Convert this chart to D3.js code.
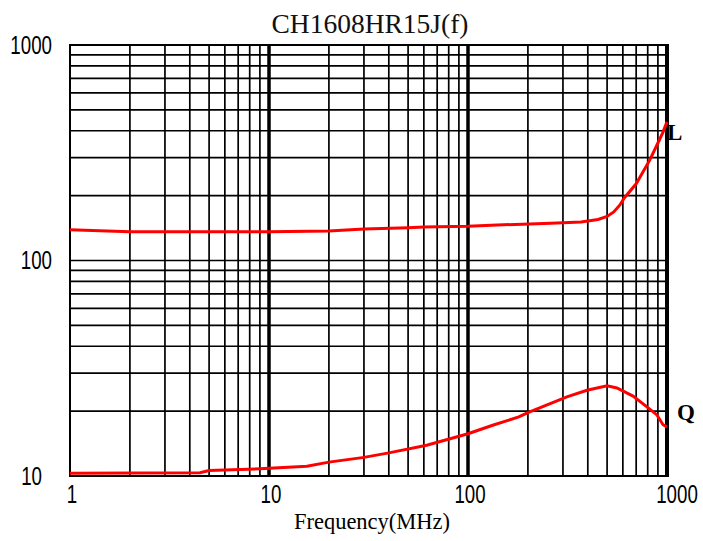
<!DOCTYPE html>
<html><head><meta charset="utf-8">
<script src="https://cdn.jsdelivr.net/npm/d3@7/dist/d3.min.js"></script>
<style>body{margin:0;background:#fff}svg{display:block}</style>
</head><body>
<svg id="c" width="703" height="541"></svg>
<script>
const title = "CH1608HR15J(f)";
const xTitle = "Frequency(MHz)";
const xTicks = [1, 10, 100, 1000];
const yTicks = [10, 100, 1000];
const lFreq = [1, 2, 10, 20, 30, 50, 60, 100, 140, 260, 370, 450, 500, 540, 580, 610, 700, 820, 900, 950, 1000];
const lVal  = [139, 136, 136, 137, 140, 142, 143, 144, 146, 149, 151, 155, 160, 168, 181, 195, 227, 293, 351, 390, 440];
const qFreq = [1, 4.5, 5, 9, 15.5, 20, 30, 40, 62, 100, 133, 180, 200, 314, 396, 500, 560, 675, 790, 890, 955, 1000];
const qVal  = [10.3, 10.35, 10.6, 10.8, 11.1, 11.6, 12.2, 12.8, 13.9, 15.7, 17.2, 18.8, 19.7, 23.3, 25.0, 26.2, 25.6, 23.5, 21.0, 19.2, 17.3, 16.9];
const seriesLabels = ["L", "Q"];

const svg = d3.select("#c");
const L = 70, R = 667, T = 45, B = 476;
const x = d3.scaleLog().domain([1, 1000]).range([L, R]);
const y = d3.scaleLog().domain([10, 1000]).range([B, T]);

// grid
const g = svg.append("g");
const minor = [];
for (const d of [1, 10, 100]) for (let k = 2; k <= 9; k++) minor.push(d * k);
g.selectAll(".vx").data(minor).join("line")
  .attr("x1", d => x(d)).attr("x2", d => x(d)).attr("y1", T).attr("y2", B)
  .attr("stroke", "#000").attr("stroke-width", 1.7);
const yMinor = [];
for (const d of [10, 100]) for (let k = 2; k <= 9; k++) yMinor.push(d * k);
g.selectAll(".hy").data(yMinor.concat([100])).join("line")
  .attr("y1", d => y(d)).attr("y2", d => y(d)).attr("x1", L).attr("x2", R)
  .attr("stroke", "#000").attr("stroke-width", 1.7);
g.selectAll(".vmaj").data([10, 100]).join("line")
  .attr("x1", d => x(d)).attr("x2", d => x(d)).attr("y1", T).attr("y2", B)
  .attr("stroke", "#000").attr("stroke-width", 3.5);
// border
svg.append("line").attr("x1", L).attr("x2", L).attr("y1", T - 1).attr("y2", B + 1).attr("stroke", "#000").attr("stroke-width", 2);
svg.append("line").attr("x1", L).attr("x2", R).attr("y1", T).attr("y2", T).attr("stroke", "#000").attr("stroke-width", 2);
svg.append("line").attr("x1", L).attr("x2", R + 2).attr("y1", B).attr("y2", B).attr("stroke", "#000").attr("stroke-width", 2);
svg.append("line").attr("x1", R).attr("x2", R).attr("y1", T - 1).attr("y2", B + 1).attr("stroke", "#000").attr("stroke-width", 4);

// curves
const line = d3.line().x(d => x(d[0])).y(d => y(d[1]));
const lData = lFreq.map((f, i) => [f, lVal[i]]);
const qData = qFreq.map((f, i) => [f, qVal[i]]);
svg.append("path").datum(lData).attr("d", line).attr("fill", "none").attr("stroke", "#ff0000").attr("stroke-width", 3);
svg.append("path").datum(qData).attr("d", line).attr("fill", "none").attr("stroke", "#ff0000").attr("stroke-width", 3);

// tick labels (narrow tall sans)
const sx = 0.72;
function narrow(px, py, txt, anchor) {
  svg.append("text").attr("transform", `translate(${px},${py}) scale(${sx},1)`)
    .attr("text-anchor", anchor).attr("font-family", "Liberation Sans, Arial, sans-serif")
    .attr("font-size", 26).attr("fill", "#000").text(txt);
}
yTicks.forEach(v => {
  const endX = v === 10 ? 42 : 52;
  narrow(endX, y(v) + 8.5, String(v), "end");
});
xTicks.forEach((v, i) => {
  const off = i === xTicks.length - 1 ? 10 : 2;
  narrow(x(v) + off, 503, String(v), "middle");
});

// title & axis title
svg.append("text").attr("x", 370).attr("y", 33).attr("text-anchor", "middle")
  .attr("font-family", "Liberation Serif, Times New Roman, serif").attr("font-size", 27.5)
  .attr("fill", "#111").text(title);
svg.append("text").attr("x", 372).attr("y", 529).attr("text-anchor", "middle")
  .attr("font-family", "Liberation Serif, Times New Roman, serif").attr("font-size", 22.5)
  .attr("fill", "#000").text(xTitle);

// series labels
svg.append("text").attr("x", 667).attr("y", 140).attr("font-family", "Liberation Serif, serif")
  .attr("font-weight", "bold").attr("font-size", 23).attr("fill", "#000").text(seriesLabels[0]);
svg.append("text").attr("x", 677).attr("y", 420).attr("font-family", "Liberation Serif, serif")
  .attr("font-weight", "bold").attr("font-size", 23).attr("fill", "#000").text(seriesLabels[1]);
</script>
</body></html>
